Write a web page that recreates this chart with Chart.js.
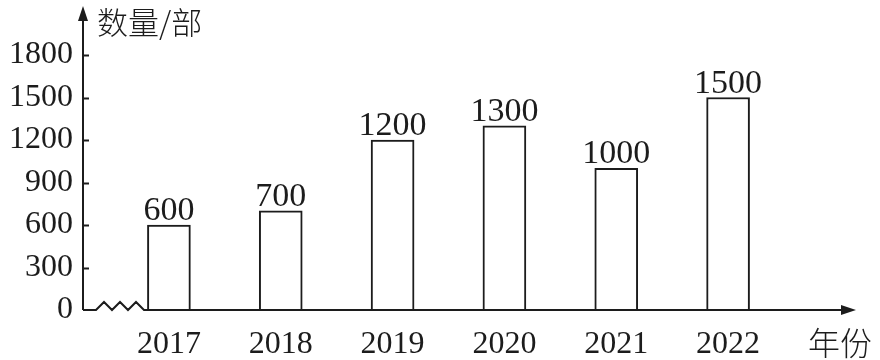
<!DOCTYPE html>
<html>
<head>
<meta charset="utf-8">
<script src="https://cdn.jsdelivr.net/npm/chart.js@4/dist/chart.umd.min.js"></script>
<style>
  html, body { margin: 0; padding: 0; background: #fff; }
  #wrap { width: 880px; height: 360px; }
</style>
</head>
<body>
<div id="wrap"><canvas id="c" width="880" height="360"></canvas></div>
<script>
// Phones produced per year
const years = ['2017', '2018', '2019', '2020', '2021', '2022'];
const counts = [600, 700, 1200, 1300, 1000, 1500];
const yTicks = [0, 300, 600, 900, 1200, 1500, 1800];
const yTitle = '数量/部';
const xTitle = '年份';

const INK = '#1c1c1c';
const SERIF = '"Liberation Serif", "DejaVu Serif", serif';
const CJK = '"Noto Sans CJK SC", sans-serif';
const AXIS_GAP = 30;   // distance between the y-axis line and the plot's first slot

// Draws arrowed axes, the axis break, inward ticks, tick labels, titles and value labels
const axesPlugin = {
  id: 'axesPlugin',
  afterDatasetsDraw(chart) {
    const { ctx, chartArea, scales } = chart;
    const ys = scales.y;
    const xs = scales.x;
    const ax = chartArea.left - AXIS_GAP;
    const y0 = ys.getPixelForValue(0);
    ctx.save();
    ctx.strokeStyle = INK;
    ctx.fillStyle = INK;
    ctx.lineWidth = 2;
    ctx.lineJoin = 'miter';

    // y axis with arrow
    const yTop = 6;
    ctx.beginPath();
    ctx.moveTo(ax, y0);
    ctx.lineTo(ax, yTop + 10);
    ctx.stroke();
    ctx.beginPath();
    ctx.moveTo(ax, yTop);
    ctx.lineTo(ax - 5, yTop + 15);
    ctx.lineTo(ax + 5, yTop + 15);
    ctx.closePath();
    ctx.fill();

    // inward tick marks and tick labels
    ctx.font = '32px ' + SERIF;
    ctx.textAlign = 'right';
    ctx.textBaseline = 'middle';
    yTicks.forEach(v => {
      const py = ys.getPixelForValue(v);
      ctx.fillText(String(v), ax - 10, py);
      if (v === 0) return;
      const ry = Math.round(py) + 0.5;
      ctx.beginPath();
      ctx.moveTo(ax, ry);
      ctx.lineTo(ax + 6, ry);
      ctx.stroke();
    });

    // x axis with a zigzag break near the origin
    const xEnd = 856;
    ctx.beginPath();
    ctx.moveTo(ax, y0);
    const zz = [[96, 0], [104, -8], [112, 0], [120, -8], [128, 0], [136, -8], [144, 0]];
    zz.forEach(([x, dy]) => ctx.lineTo(x, y0 + dy));
    ctx.lineTo(xEnd - 10, y0);
    ctx.stroke();
    ctx.beginPath();
    ctx.moveTo(xEnd, y0);
    ctx.lineTo(xEnd - 15, y0 - 5);
    ctx.lineTo(xEnd - 15, y0 + 5);
    ctx.closePath();
    ctx.fill();

    // category labels
    ctx.textAlign = 'center';
    ctx.textBaseline = 'alphabetic';
    years.forEach((yr, i) => {
      ctx.fillText(yr, xs.getPixelForValue(i), y0 + 43);
    });

    // axis titles
    ctx.font = '300 31px ' + CJK;
    ctx.textAlign = 'left';
    ctx.textBaseline = 'middle';
    ctx.fillText(yTitle, ax + 14, 22);
    ctx.font = '300 32px ' + CJK;
    ctx.fillText(xTitle, 808, 343);

    // value labels above bars
    ctx.font = '34px ' + SERIF;
    ctx.textAlign = 'center';
    ctx.textBaseline = 'alphabetic';
    const meta = chart.getDatasetMeta(0);
    meta.data.forEach((bar, i) => {
      ctx.fillText(String(counts[i]), bar.x, bar.y - 5);
    });
    ctx.restore();
  }
};

new Chart(document.getElementById('c'), {
  type: 'bar',
  data: {
    labels: years,
    datasets: [{
      data: counts,
      backgroundColor: '#ffffff',
      borderColor: INK,
      borderWidth: 2,
      borderSkipped: 'bottom',
      barThickness: 43
    }]
  },
  options: {
    responsive: false,
    animation: false,
    devicePixelRatio: 1,
    layout: { padding: { top: 55, right: 96, bottom: 50, left: 113 } },
    plugins: { legend: { display: false }, tooltip: { enabled: false } },
    scales: {
      x: { display: false },
      y: { display: false, min: 0, max: 1800 }
    }
  },
  plugins: [axesPlugin]
});
</script>
</body>
</html>
